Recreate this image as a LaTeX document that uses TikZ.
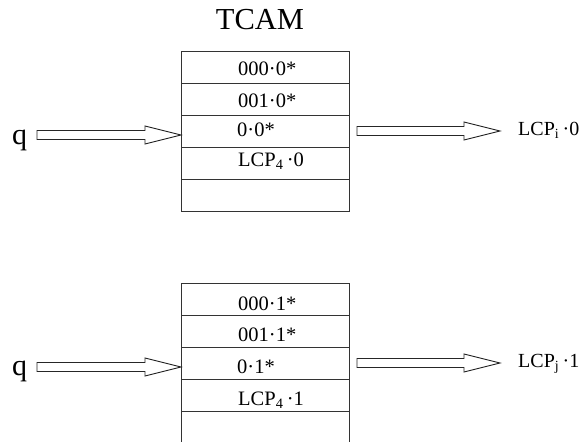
\documentclass[tikz,border=0pt]{standalone}
\usepackage{fontspec}
\setmainfont{Liberation Serif}
\usetikzlibrary{calc}
\tikzset{
  tline/.style={draw=black!80, line width=0.9pt},
  rowbox/.style={tline, minimum width=168pt, minimum height=32pt, inner sep=0pt, outer sep=0pt},
  cell/.style={anchor=base west, inner sep=0pt, font=\fontsize{20.5}{23}\selectfont},
  blk/.style={draw=black!85, line width=0.9pt, fill=white, line join=miter},
  qlab/.style={anchor=base west, inner sep=0pt, font=\fontsize{30}{33}\selectfont},
  outlab/.style={anchor=base west, inner sep=0pt, font=\fontsize{20}{23}\selectfont},
}
\newcommand\blockarrow[2]{%
  \draw[blk] ($(#1)+(0,-4.5)$) -- ($(#2)+(-36,-4.5)$) -- ($(#2)+(-36,-9)$) -- (#2)
    -- ($(#2)+(-36,9)$) -- ($(#2)+(-36,4.5)$) -- ($(#1)+(0,4.5)$) -- cycle;}
\begin{document}
\begin{tikzpicture}[x=1pt,y=-1pt]
\useasboundingbox (0,0) rectangle (585,441);
% title
\node[anchor=base, inner sep=0pt, font=\fontsize{30.5}{34}\selectfont] (title) at (260,30) {TCAM};
% top table
\node[rowbox] (a1) at (265,67) {};
\node[rowbox] (a2) at (265,99) {};
\node[rowbox] (a3) at (265,131) {};
\node[rowbox] (a4) at (265,163) {};
\node[rowbox] (a5) at (265,195) {};
\node[cell] (ta1) at (238,75.5) {000·0*};
\node[cell] (ta2) at (238,107) {001·0*};
\node[cell] (ta3) at (237,136.5) {0·0*};
\node[cell] (ta4) at (238,166.5) {LCP\textsubscript{4}\,·0};
% bottom table
\node[rowbox] (b1) at (265,299) {};
\node[rowbox] (b2) at (265,331) {};
\node[rowbox] (b3) at (265,363) {};
\node[rowbox] (b4) at (265,395) {};
\node[minimum width=168pt, minimum height=32pt, inner sep=0pt, outer sep=0pt] (b5) at (265,427) {};
\draw[tline] (b5.north west) -- (b5.south west);
\draw[tline] (b5.north east) -- (b5.south east);
\node[cell] (tb1) at (238,310) {000·1*};
\node[cell] (tb2) at (238,341.5) {001·1*};
\node[cell] (tb3) at (237,373) {0·1*};
\node[cell] (tb4) at (238,405) {LCP\textsubscript{4}\,·1};
% inputs
\node[qlab] (q1) at (12,144) {q};
\node[qlab] (q2) at (12,375) {q};
\coordinate (qs1) at (37,135);
\coordinate (in1) at ($(a3.west)+(0,4)$);
\coordinate (qs2) at (37,367);
\coordinate (in2) at ($(b3.west)+(0,4)$);
\blockarrow{qs1}{in1}
\blockarrow{qs2}{in2}
% outputs
\node[outlab] (o1) at (518,135) {LCP\textsubscript{i}\,·0};
\node[outlab] (o2) at (518,367) {LCP\textsubscript{j}\,·1};
\coordinate (os1) at ($(a3.east)+(8,0)$);
\coordinate (oe1) at ($(o1.base west)+(-18,-4)$);
\coordinate (os2) at ($(b3.east)+(8,0)$);
\coordinate (oe2) at ($(o2.base west)+(-18,-4)$);
\blockarrow{os1}{oe1}
\blockarrow{os2}{oe2}
\end{tikzpicture}
\end{document}
